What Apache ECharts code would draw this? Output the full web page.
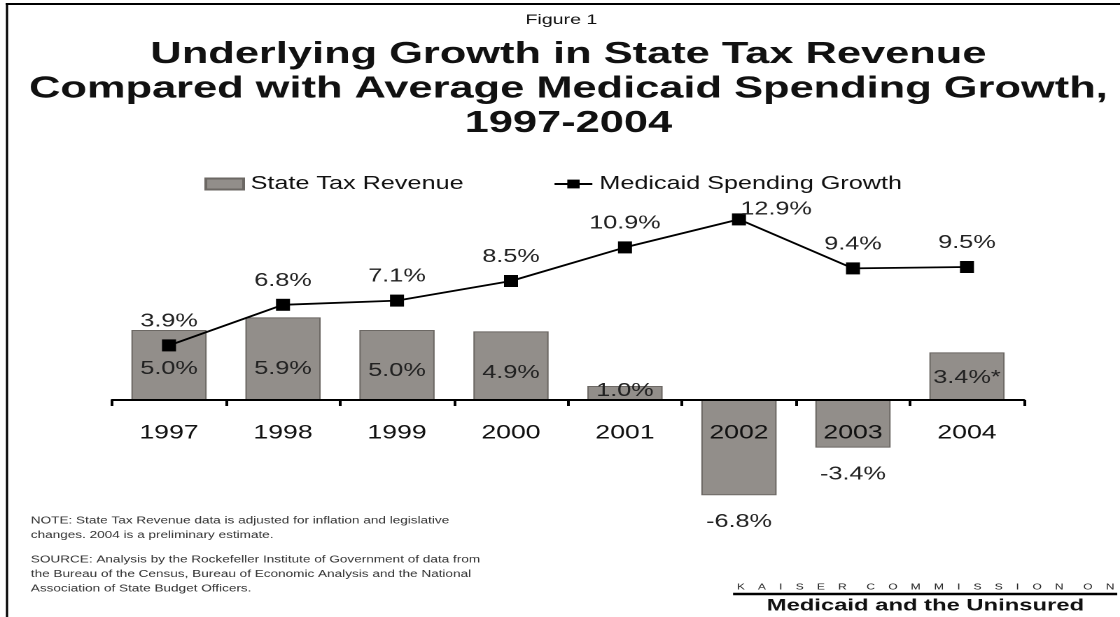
<!DOCTYPE html>
<html>
<head>
<meta charset="utf-8">
<script src="https://cdn.jsdelivr.net/npm/echarts@6/dist/echarts.min.js"></script>
<style>
  html, body { margin: 0; padding: 0; background: #fff; }
  #wrap { width: 1120px; height: 617px; overflow: hidden; position: relative; background: #fff; }
  #chart { width: 800px; height: 617px; transform: scaleX(1.4); transform-origin: 0 0; }
</style>
</head>
<body>
<div id="wrap"><div id="chart"></div></div>
<script>
// ---- data ----
const categories = ['1997', '1998', '1999', '2000', '2001', '2002', '2003', '2004'];
const stateTaxRevenue = [5.0, 5.9, 5.0, 4.9, 1.0, -6.8, -3.4, 3.4];
const medicaidGrowth = [3.9, 6.8, 7.1, 8.5, 10.9, 12.9, 9.4, 9.5];
const barLabelSuffix = ['', '', '', '', '', '', '', '*'];
const seriesNames = ['State Tax Revenue', 'Medicaid Spending Growth'];
const figureLabel = 'Figure 1';
const titleLines = ['Underlying Growth in State Tax Revenue', 'Compared with Average Medicaid Spending Growth,', '1997-2004'];
const noteLines = ['NOTE: State Tax Revenue data is adjusted for inflation and legislative', 'changes. 2004 is a preliminary estimate.'];
const sourceLines = ['SOURCE: Analysis by the Rockefeller Institute of Government of data from', 'the Bureau of the Census, Bureau of Economic Analysis and the National', 'Association of State Budget Officers.'];
const logoTop = ['KAISER', 'COMMISSION', 'ON'];
const logoBottom = 'Medicaid and the Uninsured';

// ---- styles (not data) ----
const FONT = '"Liberation Sans", Arial, Helvetica, sans-serif';
const barLabelDistance = [22, 22, 20, 18, 0, 18, 18, 13];
const lineLabelOverride = { 5: { position: 'right', distance: 0, offset: [-4, -10] } };
const Y_MIN = -8, Y_MAX = 14;
const GRID_TOP = 204, GRID_BOTTOM = 105, CHART_H = 617;
const zeroOffset = -((CHART_H - GRID_TOP - GRID_BOTTOM) * (0 - Y_MIN) / (Y_MAX - Y_MIN));

const NB = n => '\u00a0'.repeat(n);
const spaced = logoTop.map(w => w.split('').join(NB(4))).join(NB(6));

const chart = echarts.init(document.getElementById('chart'), null, { renderer: 'canvas', devicePixelRatio: 2 });

const fmt = v => v.toFixed(1) + '%';

const option = {
  backgroundColor: '#fff',
  animation: false,
  textStyle: { fontFamily: FONT },
  grid: { left: 80, right: 68.6, top: GRID_TOP, bottom: GRID_BOTTOM, containLabel: false, outerBoundsMode: 'none' },
  legend: {
    left: 141, top: 170,
    itemWidth: 27, itemHeight: 11, itemGap: 64,
    textStyle: { fontSize: 18, color: '#111', fontFamily: FONT },
    data: [{ name: seriesNames[0], icon: 'rect' }, { name: seriesNames[1] }]
  },
  xAxis: {
    type: 'category',
    data: categories,
    boundaryGap: true,
    position: 'bottom',
    offset: zeroOffset,
    z: 10,
    axisLine: { onZero: false, lineStyle: { color: '#000', width: 2 } },
    axisTick: { show: true, alignWithLabel: false, length: 6, lineStyle: { color: '#000', width: 2 } },
    axisLabel: { margin: 24, fontSize: 19, color: '#111', fontFamily: FONT },
    splitLine: { show: false }
  },
  yAxis: {
    type: 'value', min: Y_MIN, max: Y_MAX, show: false,
    splitLine: { show: false }
  },
  series: [
    {
      name: seriesNames[0],
      type: 'bar',
      barWidth: '66%',
      z: 2,
      itemStyle: { color: '#928e8a', borderColor: '#6c6864', borderWidth: 1 },
      label: {
        show: true, fontSize: 18, color: '#222', fontFamily: FONT,
        formatter: p => fmt(p.value) + barLabelSuffix[p.dataIndex]
      },
      data: stateTaxRevenue.map((v, i) => ({
        value: v,
        label: { position: v < 0 ? 'bottom' : 'insideBottom', distance: barLabelDistance[i] }
      }))
    },
    {
      name: seriesNames[1],
      type: 'line',
      z: 5,
      symbol: 'rect',
      symbolSize: [10, 12],
      lineStyle: { color: '#000', width: 1.8 },
      itemStyle: { color: '#000' },
      label: {
        show: true, position: 'top', distance: 9, fontSize: 18, color: '#222', fontFamily: FONT,
        formatter: p => fmt(p.value)
      },
      data: medicaidGrowth.map((v, i) => lineLabelOverride[i] ? { value: v, label: lineLabelOverride[i] } : v)
    }
  ],
  graphic: [
    { type: 'line', shape: { x1: 4, y1: 4, x2: 800, y2: 4 }, style: { stroke: '#000', lineWidth: 2 } },
    { type: 'line', shape: { x1: 5, y1: 4, x2: 5, y2: 617 }, style: { stroke: '#000', lineWidth: 1.6 } },
    { type: 'text', x: 401, y: 20, style: { text: figureLabel, font: '14px ' + FONT, fill: '#111', textAlign: 'center', textVerticalAlign: 'middle' } },
    { type: 'text', x: 406, y: 89, style: { text: titleLines.join('\n'), font: 'bold 31px ' + FONT, lineHeight: 34.5, fill: '#111', textAlign: 'center', textVerticalAlign: 'middle' } },
    { type: 'text', x: 22, y: 528, style: { text: noteLines.join('\n'), font: '9.7px ' + FONT, lineHeight: 14.5, fill: '#333', textAlign: 'left', textVerticalAlign: 'middle' } },
    { type: 'text', x: 22, y: 574.5, style: { text: sourceLines.join('\n'), font: '9.7px ' + FONT, lineHeight: 14.5, fill: '#333', textAlign: 'left', textVerticalAlign: 'middle' } },
    { type: 'text', x: 796, y: 587, style: { text: spaced, font: '8.5px ' + FONT, fill: '#222', textAlign: 'right', textVerticalAlign: 'middle' } },
    { type: 'line', shape: { x1: 523.6, y1: 594, x2: 798, y2: 594 }, style: { stroke: '#000', lineWidth: 2.5 } },
    { type: 'text', x: 661, y: 606, style: { text: logoBottom, font: 'bold 17px ' + FONT, fill: '#111', textAlign: 'center', textVerticalAlign: 'middle' } }
  ]
};

chart.setOption(option);
</script>
</body>
</html>
